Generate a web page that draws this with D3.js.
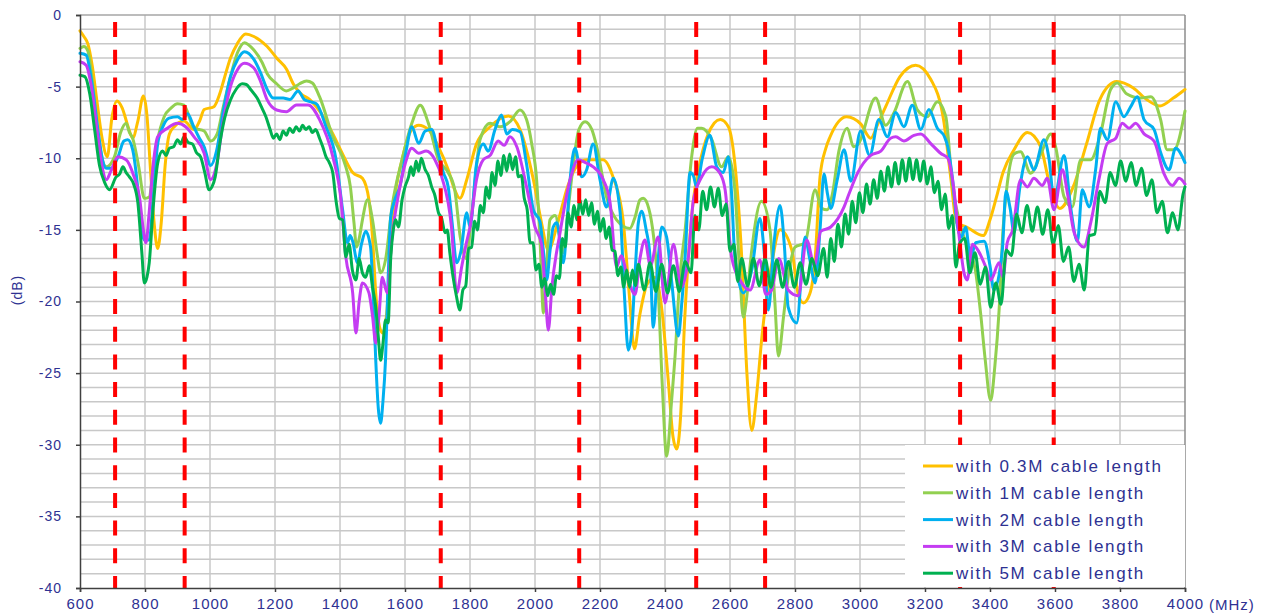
<!DOCTYPE html>
<html>
<head>
<meta charset="utf-8">
<script src="https://cdn.jsdelivr.net/npm/d3@7"></script>
<style>
  html, body { margin: 0; padding: 0; background: #fff; }
  svg { display: block; font-family: Arial, "Liberation Sans", sans-serif; }
</style>
</head>
<body>
<svg id="chart" width="1269" height="613"></svg>
<script>
// Frequency response of the antenna for several cable lengths (MHz, dB)
const cable03 = [[600,-1.1],[612,-1.5],[624,-2.0],[638,-3.6],[652,-6.0],[668,-8.6],[684,-9.9],[698,-7.2],[714,-6.0],[730,-6.5],[748,-7.8],[762,-8.6],[778,-7.4],[795,-5.65],[806,-7.0],[816,-10.5],[828,-14.5],[839,-16.3],[850,-14.5],[862,-10.5],[875,-8.3],[890,-7.8],[920,-7.4],[951,-8.0],[968,-7.4],[982,-6.6],[1012,-6.4],[1030,-5.5],[1043,-4.5],[1063,-3.0],[1084,-2.0],[1110,-1.33],[1135,-1.5],[1176,-2.2],[1205,-3.0],[1236,-3.8],[1256,-4.8],[1280,-5.5],[1307,-5.9],[1340,-6.8],[1378,-8.3],[1410,-9.8],[1439,-11.0],[1469,-11.4],[1489,-12.9],[1500,-15.5],[1510,-19.4],[1522,-21.8],[1532,-22.2],[1545,-20.5],[1556,-16.5],[1566,-13.4],[1591,-10.1],[1621,-8.0],[1642,-7.7],[1672,-8.0],[1703,-9.2],[1733,-10.8],[1753,-12.2],[1769,-12.8],[1790,-11.5],[1820,-9.0],[1862,-7.8],[1918,-7.05],[1954,-8.0],[1995,-11.5],[2020,-14.5],[2041,-16.4],[2070,-14.5],[2100,-12.0],[2130,-10.5],[2159,-10.1],[2209,-10.1],[2240,-11.3],[2271,-14.3],[2290,-19.5],[2306,-23.3],[2322,-21.0],[2345,-18.8],[2369,-18.3],[2390,-20.5],[2410,-25.5],[2425,-29.5],[2436,-30.3],[2448,-28.0],[2460,-21.5],[2472,-16.9],[2488,-12.8],[2503,-10.8],[2533,-8.3],[2570,-7.3],[2595,-7.8],[2616,-10.6],[2636,-16.9],[2652,-25.0],[2667,-29.0],[2682,-26.5],[2698,-22.5],[2729,-17.3],[2754,-15.0],[2790,-16.4],[2810,-19.5],[2826,-20.1],[2845,-19.5],[2862,-17.0],[2877,-11.3],[2895,-9.3],[2908,-8.5],[2959,-7.1],[3002,-7.6],[3033,-8.6],[3055,-7.6],[3079,-6.4],[3123,-4.3],[3171,-3.5],[3218,-4.5],[3257,-7.3],[3280,-11.5],[3297,-14.5],[3328,-14.8],[3379,-15.4],[3400,-14.3],[3420,-12.7],[3440,-11.0],[3474,-9.4],[3515,-8.2],[3556,-9.2],[3580,-11.5],[3597,-12.9],[3615,-13.5],[3656,-12.0],[3697,-9.0],[3738,-5.9],[3790,-4.65],[3841,-5.1],[3882,-5.9],[3923,-6.35],[3964,-5.8],[4000,-5.2]];

const cable1 = [[600,-2.33],[612,-2.2],[624,-2.5],[640,-5.0],[660,-9.0],[681,-10.6],[706,-9.9],[725,-8.2],[742,-7.56],[752,-8.2],[762,-8.6],[780,-10.5],[798,-12.8],[813,-12.7],[826,-10.5],[839,-8.7],[859,-7.1],[880,-6.5],[900,-6.2],[920,-6.3],[951,-7.9],[982,-8.1],[1002,-8.8],[1022,-8.3],[1040,-6.5],[1063,-4.3],[1085,-2.6],[1106,-1.93],[1135,-2.45],[1160,-3.3],[1176,-4.1],[1205,-4.8],[1235,-5.3],[1255,-5.1],[1276,-4.8],[1297,-4.6],[1315,-4.75],[1337,-5.7],[1378,-8.5],[1418,-10.6],[1432,-12.0],[1443,-14.5],[1451,-16.2],[1460,-15.5],[1469,-14.3],[1485,-12.9],[1500,-14.3],[1515,-16.8],[1525,-18.0],[1540,-17.1],[1560,-13.4],[1591,-10.1],[1621,-7.56],[1647,-6.3],[1672,-7.56],[1703,-10.1],[1733,-11.0],[1753,-12.2],[1770,-15.5],[1788,-17.0],[1805,-14.0],[1831,-8.7],[1862,-7.56],[1892,-7.8],[1923,-7.45],[1954,-6.63],[1974,-7.3],[1990,-9.0],[2005,-11.5],[2016,-16.0],[2026,-20.8],[2036,-17.5],[2046,-14.3],[2062,-14.0],[2087,-16.6],[2100,-14.0],[2118,-10.4],[2135,-8.0],[2154,-7.45],[2175,-8.0],[2190,-9.2],[2220,-12.7],[2251,-14.3],[2292,-14.9],[2308,-14.1],[2323,-12.9],[2333,-12.8],[2350,-13.5],[2365,-15.5],[2379,-19.2],[2392,-26.0],[2405,-30.8],[2420,-27.0],[2431,-23.8],[2445,-18.5],[2462,-15.0],[2482,-9.9],[2500,-7.9],[2513,-7.9],[2544,-8.7],[2574,-10.6],[2595,-9.9],[2615,-12.2],[2630,-18.0],[2641,-21.1],[2655,-19.0],[2667,-16.4],[2697,-13.0],[2723,-15.0],[2738,-20.0],[2749,-23.8],[2765,-21.0],[2779,-18.3],[2800,-16.2],[2831,-15.9],[2862,-12.2],[2882,-13.5],[2899,-13.6],[2915,-12.5],[2935,-9.5],[2961,-7.9],[2980,-9.2],[2995,-9.0],[3048,-5.8],[3079,-7.7],[3105,-6.8],[3146,-4.65],[3176,-6.6],[3207,-7.1],[3238,-6.05],[3264,-7.1],[3284,-11.8],[3310,-14.8],[3335,-16.4],[3355,-17.8],[3371,-20.8],[3385,-24.0],[3402,-26.9],[3415,-24.5],[3428,-20.6],[3440,-15.0],[3453,-11.8],[3474,-9.7],[3494,-9.55],[3525,-11.05],[3560,-9.5],[3587,-8.3],[3602,-9.2],[3628,-12.7],[3653,-13.4],[3679,-10.1],[3710,-10.1],[3740,-8.3],[3771,-5.2],[3792,-4.75],[3820,-5.5],[3864,-5.8],[3895,-5.7],[3925,-7.3],[3945,-9.4],[3966,-9.4],[4000,-6.7]];

const cable2 = [[600,-2.67],[619,-2.8],[635,-4.5],[655,-8.0],[670,-10.2],[681,-10.7],[696,-10.7],[717,-9.9],[735,-8.8],[747,-8.7],[762,-9.4],[775,-11.5],[787,-14.5],[798,-15.7],[813,-15.7],[826,-12.5],[839,-9.0],[855,-7.8],[874,-7.2],[900,-7.1],[915,-7.3],[931,-6.9],[950,-7.8],[965,-8.5],[982,-9.2],[1002,-10.5],[1020,-9.5],[1040,-6.8],[1063,-4.3],[1085,-3.1],[1106,-2.56],[1135,-3.1],[1155,-4.0],[1176,-5.2],[1195,-5.8],[1225,-5.8],[1246,-5.9],[1271,-5.3],[1290,-5.9],[1307,-6.05],[1327,-6.2],[1357,-7.8],[1388,-10.1],[1408,-13.6],[1423,-15.9],[1431,-15.4],[1439,-15.8],[1454,-17.3],[1466,-16.0],[1479,-15.1],[1494,-16.2],[1502,-19.5],[1510,-24.1],[1518,-27.5],[1525,-28.5],[1532,-27.0],[1540,-24.1],[1548,-18.5],[1556,-14.1],[1566,-13.1],[1586,-11.8],[1605,-9.3],[1621,-7.8],[1642,-8.96],[1662,-8.1],[1682,-8.0],[1703,-9.7],[1718,-11.0],[1733,-12.0],[1745,-14.5],[1759,-17.3],[1772,-16.5],[1790,-13.8],[1800,-14.8],[1820,-10.4],[1841,-9.0],[1856,-9.5],[1877,-8.0],[1897,-6.98],[1913,-8.3],[1930,-8.0],[1954,-8.15],[1974,-10.4],[1995,-13.6],[2015,-14.4],[2026,-16.5],[2036,-18.5],[2046,-16.5],[2056,-14.8],[2067,-14.5],[2087,-17.3],[2100,-14.0],[2108,-11.5],[2123,-9.3],[2144,-11.3],[2159,-10.8],[2179,-9.0],[2200,-11.5],[2220,-13.4],[2241,-11.4],[2262,-13.8],[2275,-19.5],[2287,-23.4],[2298,-22.0],[2308,-18.0],[2318,-14.5],[2328,-13.7],[2342,-15.0],[2354,-16.9],[2364,-21.8],[2376,-18.0],[2390,-14.8],[2405,-15.5],[2420,-18.5],[2441,-22.4],[2452,-20.0],[2462,-16.9],[2477,-11.0],[2487,-11.2],[2497,-12.0],[2515,-10.0],[2538,-8.4],[2559,-10.6],[2579,-11.0],[2595,-9.9],[2605,-12.5],[2615,-16.9],[2641,-19.4],[2667,-17.8],[2692,-14.2],[2705,-16.5],[2718,-20.6],[2735,-16.0],[2754,-13.3],[2767,-16.0],[2779,-20.4],[2805,-21.5],[2831,-15.5],[2845,-17.0],[2862,-18.7],[2877,-15.0],[2889,-11.1],[2900,-12.5],[2910,-13.5],[2930,-11.5],[2951,-9.4],[2972,-11.6],[3002,-8.1],[3030,-9.8],[3058,-7.3],[3084,-8.5],[3110,-6.8],[3135,-7.8],[3161,-6.3],[3187,-8.0],[3212,-6.6],[3238,-7.9],[3260,-8.5],[3270,-9.2],[3285,-11.5],[3300,-14.8],[3312,-15.5],[3325,-14.8],[3340,-17.0],[3356,-15.9],[3382,-15.8],[3400,-17.5],[3412,-19.2],[3438,-16.4],[3449,-12.3],[3462,-13.5],[3474,-15.2],[3492,-12.0],[3515,-9.9],[3535,-10.8],[3566,-8.7],[3582,-10.1],[3597,-12.9],[3628,-9.8],[3648,-13.4],[3669,-15.8],[3684,-12.2],[3705,-13.4],[3725,-10.8],[3740,-7.9],[3761,-8.7],[3787,-6.05],[3812,-7.1],[3833,-6.4],[3853,-5.7],[3874,-7.3],[3905,-8.0],[3925,-9.6],[3951,-10.8],[3971,-9.3],[4000,-10.3]];

const cable3 = [[600,-3.26],[619,-3.5],[635,-5.0],[655,-8.5],[670,-10.8],[681,-11.5],[695,-10.9],[717,-9.9],[742,-10.1],[765,-11.2],[783,-12.7],[795,-15.0],[803,-15.9],[812,-14.0],[825,-10.5],[839,-8.5],[869,-7.9],[900,-7.56],[925,-7.8],[951,-8.5],[982,-9.65],[1002,-11.5],[1020,-10.5],[1040,-7.5],[1063,-5.0],[1085,-3.8],[1106,-3.37],[1135,-3.7],[1155,-4.6],[1176,-5.93],[1205,-6.63],[1235,-6.75],[1266,-6.28],[1302,-6.28],[1337,-7.3],[1378,-9.9],[1403,-12.9],[1418,-16.9],[1439,-19.4],[1449,-22.2],[1459,-20.0],[1469,-18.7],[1489,-19.4],[1500,-21.0],[1510,-22.9],[1520,-21.0],[1530,-18.3],[1545,-19.4],[1560,-15.5],[1581,-12.4],[1601,-10.35],[1621,-9.3],[1642,-9.65],[1665,-9.5],[1692,-10.1],[1713,-11.3],[1743,-14.8],[1759,-19.4],[1775,-17.5],[1788,-16.0],[1800,-14.8],[1820,-11.5],[1841,-10.1],[1862,-9.8],[1887,-8.8],[1905,-9.1],[1923,-8.5],[1944,-9.2],[1974,-12.0],[2000,-14.8],[2020,-16.0],[2032,-19.5],[2041,-22.0],[2052,-19.0],[2077,-15.2],[2108,-11.5],[2133,-10.1],[2155,-10.3],[2179,-10.6],[2210,-11.5],[2231,-13.1],[2251,-17.6],[2265,-16.8],[2287,-18.5],[2308,-19.5],[2323,-17.0],[2338,-15.7],[2355,-17.5],[2379,-15.5],[2400,-20.1],[2426,-16.0],[2450,-19.0],[2472,-16.9],[2487,-13.0],[2513,-11.3],[2544,-10.6],[2569,-11.05],[2585,-12.2],[2605,-16.9],[2636,-18.7],[2662,-19.2],[2692,-17.1],[2710,-19.5],[2728,-19.2],[2750,-17.0],[2779,-19.2],[2810,-19.6],[2836,-15.7],[2860,-17.5],[2879,-15.1],[2910,-14.8],[2951,-13.4],[2966,-12.5],[2992,-11.05],[3033,-9.8],[3064,-9.5],[3094,-8.6],[3110,-8.5],[3135,-8.8],[3166,-8.4],[3187,-8.3],[3217,-8.96],[3248,-9.65],[3270,-10.0],[3289,-12.2],[3300,-14.5],[3310,-16.4],[3320,-18.0],[3330,-18.5],[3346,-16.0],[3365,-16.5],[3387,-17.6],[3402,-18.5],[3428,-17.3],[3440,-18.3],[3453,-15.9],[3470,-15.0],[3494,-11.5],[3515,-12.0],[3535,-11.4],[3561,-11.9],[3576,-11.4],[3597,-13.6],[3623,-10.8],[3638,-12.4],[3659,-15.2],[3689,-16.2],[3710,-14.5],[3735,-11.5],[3761,-8.96],[3787,-8.6],[3807,-7.56],[3828,-7.9],[3848,-7.56],[3874,-8.3],[3905,-8.8],[3935,-11.05],[3961,-11.9],[3982,-11.4],[4000,-11.8]];

const cable5 = [[600,-4.2],[615,-4.3],[630,-5.5],[645,-8.0],[660,-10.5],[676,-11.7],[691,-12.2],[711,-11.3],[722,-11.1],[732,-10.6],[742,-11.0],[752,-11.3],[765,-11.8],[778,-13.1],[790,-16.5],[798,-18.7],[806,-18.3],[813,-17.3],[825,-13.5],[839,-10.35],[854,-9.5],[865,-9.8],[875,-9.3],[888,-9.2],[900,-8.7],[910,-9.0],[920,-8.5],[933,-8.9],[946,-9.0],[958,-9.6],[971,-9.9],[984,-11.0],[997,-12.2],[1006,-12.0],[1016,-11.3],[1030,-9.0],[1045,-7.2],[1063,-5.93],[1080,-5.2],[1099,-4.8],[1112,-4.85],[1125,-5.2],[1145,-5.8],[1160,-6.5],[1172,-7.1],[1185,-8.0],[1195,-8.6],[1205,-8.3],[1215,-8.7],[1225,-8.1],[1235,-8.4],[1245,-7.9],[1255,-8.2],[1265,-7.8],[1275,-8.1],[1285,-7.7],[1295,-8.0],[1305,-7.8],[1315,-8.2],[1325,-8.0],[1337,-8.6],[1347,-9.2],[1357,-9.9],[1367,-10.3],[1378,-11.05],[1388,-13.0],[1398,-14.2],[1408,-14.3],[1418,-16.9],[1428,-16.0],[1438,-17.8],[1449,-18.5],[1459,-17.0],[1469,-18.0],[1479,-18.3],[1490,-17.5],[1500,-19.0],[1510,-20.4],[1518,-22.5],[1525,-24.1],[1532,-23.0],[1540,-21.3],[1548,-21.5],[1556,-17.0],[1564,-15.0],[1571,-14.3],[1580,-14.8],[1591,-12.9],[1600,-12.0],[1611,-11.3],[1618,-10.6],[1626,-11.2],[1634,-10.2],[1642,-10.9],[1650,-10.0],[1662,-10.8],[1672,-11.2],[1682,-12.0],[1692,-12.6],[1703,-13.8],[1713,-14.2],[1723,-15.2],[1730,-15.0],[1738,-16.6],[1748,-18.3],[1758,-19.6],[1769,-20.6],[1778,-19.2],[1787,-18.9],[1796,-16.3],[1805,-16.2],[1814,-14.4],[1823,-15.0],[1832,-13.3],[1841,-13.8],[1850,-12.0],[1859,-12.8],[1868,-11.0],[1877,-11.9],[1886,-10.2],[1895,-11.2],[1904,-9.8],[1913,-10.9],[1922,-9.7],[1931,-10.8],[1940,-9.9],[1949,-11.3],[1958,-11.2],[1967,-12.8],[1976,-13.6],[1985,-15.9],[1994,-15.9],[2003,-17.8],[2012,-17.4],[2021,-19.0],[2030,-18.4],[2039,-19.6],[2048,-18.8],[2057,-19.5],[2066,-18.2],[2075,-18.4],[2084,-15.6],[2093,-16.2],[2102,-13.8],[2111,-14.8],[2120,-13.3],[2129,-14.3],[2138,-12.9],[2147,-13.9],[2156,-12.9],[2165,-14.0],[2174,-13.1],[2183,-14.6],[2192,-13.7],[2201,-15.1],[2210,-14.2],[2219,-15.6],[2228,-14.8],[2237,-16.4],[2246,-16.5],[2255,-18.2],[2264,-17.6],[2273,-19.0],[2282,-17.8],[2291,-19.0],[2300,-17.8],[2309,-18.9],[2318,-17.4],[2336,-19.2],[2354,-17.3],[2372,-19.3],[2390,-17.4],[2408,-19.4],[2426,-17.5],[2444,-19.3],[2462,-17.2],[2480,-18.0],[2492,-14.0],[2504,-15.0],[2516,-12.3],[2528,-13.6],[2540,-12.0],[2552,-13.4],[2564,-12.1],[2576,-14.0],[2588,-13.2],[2600,-16.5],[2612,-16.0],[2624,-18.6],[2636,-17.0],[2654,-18.9],[2672,-17.0],[2690,-18.9],[2708,-17.0],[2726,-19.0],[2744,-17.1],[2762,-19.0],[2780,-17.2],[2798,-19.0],[2816,-17.3],[2834,-18.8],[2852,-17.0],[2870,-18.2],[2888,-16.3],[2899,-18.3],[2910,-15.6],[2921,-17.2],[2932,-14.6],[2943,-16.2],[2954,-13.9],[2965,-15.3],[2976,-13.0],[2987,-14.5],[2998,-12.4],[3009,-13.8],[3020,-11.8],[3031,-13.2],[3042,-11.5],[3053,-12.8],[3064,-10.9],[3075,-12.3],[3086,-10.6],[3097,-12.0],[3108,-10.3],[3119,-11.8],[3130,-10.1],[3141,-11.6],[3152,-10.0],[3163,-11.5],[3174,-10.1],[3185,-11.6],[3196,-10.2],[3207,-11.8],[3218,-10.6],[3229,-12.4],[3240,-11.6],[3251,-13.6],[3262,-12.5],[3273,-14.9],[3284,-14.0],[3295,-17.6],[3306,-16.0],[3322,-15.6],[3338,-18.0],[3354,-16.6],[3370,-18.8],[3386,-17.6],[3402,-20.4],[3418,-18.7],[3434,-20.2],[3450,-16.4],[3466,-16.8],[3482,-13.9],[3498,-15.2],[3514,-13.3],[3530,-15.1],[3546,-13.4],[3562,-15.3],[3578,-13.6],[3594,-16.0],[3610,-14.7],[3626,-17.2],[3642,-16.2],[3658,-18.6],[3674,-17.4],[3690,-19.2],[3706,-15.4],[3722,-15.3],[3738,-12.3],[3754,-13.1],[3770,-11.0],[3786,-11.9],[3802,-10.2],[3818,-11.6],[3834,-10.3],[3850,-11.9],[3866,-10.7],[3882,-12.6],[3898,-11.5],[3914,-13.8],[3930,-13.0],[3946,-15.2],[3962,-13.8],[3978,-15.0],[3994,-12.5],[4000,-12.0]];

const seriesNames = ["with 0.3M cable length", "with 1M cable length", "with 2M cable length", "with 3M cable length", "with 5M cable length"];
const seriesColors = ["#ffc000", "#92d050", "#00b0f0", "#c43cf2", "#00b050"];
const seriesData = [cable03, cable1, cable2, cable3, cable5];

// Band edges marked with red dashed lines (MHz)
const bandEdges = [708, 922, 1710, 2136, 2496, 2708, 3308, 3596];

const xTicks = d3.range(600, 4001, 200);
const yTicks = d3.range(-40, 1, 5);

const svg = d3.select("#chart");
const plotL = 80, plotR = 1185, plotT = 15, plotB = 588;
const x = d3.scaleLinear().domain([600, 4000]).range([plotL, plotR]);
const y = d3.scaleLinear().domain([-40, 0]).range([plotB, plotT]);
const textColor = "#2e3192";

// Grid
const grid = svg.append("g");
grid.selectAll("line.h").data(d3.range(-39, 0, 1)).join("line")
  .attr("x1", plotL).attr("x2", plotR)
  .attr("y1", d => y(d)).attr("y2", d => y(d))
  .attr("stroke", "#c8c8c8").attr("stroke-width", 1.5);
grid.selectAll("line.v").data(xTicks.filter(d => d > 600 && d < 4000)).join("line")
  .attr("x1", d => x(d)).attr("x2", d => x(d))
  .attr("y1", plotT).attr("y2", plotB)
  .attr("stroke", "#c8c8c8").attr("stroke-width", 1.5);

// Plot frame: top and right in grey
svg.append("line").attr("x1", plotL).attr("x2", plotR).attr("y1", plotT).attr("y2", plotT)
  .attr("stroke", "#a6a6a6").attr("stroke-width", 1.5);
svg.append("line").attr("x1", plotR).attr("x2", plotR).attr("y1", plotT).attr("y2", plotB)
  .attr("stroke", "#8c8c8c").attr("stroke-width", 1.5);

// Curves
const line = d3.line()
  .x(d => x(d[0])).y(d => y(d[1]))
  .curve(d3.curveMonotoneX);
svg.append("g").selectAll("path").data(seriesData).join("path")
  .attr("d", line)
  .attr("fill", "none")
  .attr("stroke", (d, i) => seriesColors[i])
  .attr("stroke-width", 3)
  .attr("stroke-linejoin", "round")
  .attr("stroke-linecap", "round");

// Band edge markers
svg.append("g").selectAll("line").data(bandEdges).join("line")
  .attr("x1", d => x(d)).attr("x2", d => x(d))
  .attr("y1", 22).attr("y2", plotB)
  .attr("stroke", "#ff0000").attr("stroke-width", 4)
  .attr("stroke-dasharray", "15 12.7");

// Axes
const yAxis = d3.axisLeft(y).tickValues(yTicks).tickSize(4).tickFormat(d3.format("d"));
const gy = svg.append("g").attr("transform", `translate(${plotL},0)`).call(yAxis);
gy.select(".domain").attr("stroke", "#404040").attr("stroke-width", 1.5);
gy.selectAll(".tick line").attr("stroke", "#404040").attr("stroke-width", 1.5);
gy.selectAll(".tick text")
  .attr("x", -18)
  .attr("fill", textColor)
  .style("font-size", "14px")
  .style("letter-spacing", "1px")
  .style("font-family", "Arial, 'Liberation Sans', sans-serif")
  .text(d => String(d));

const xAxis = d3.axisBottom(x).tickValues(xTicks).tickSize(4).tickFormat(d3.format("d"));
const gx = svg.append("g").attr("transform", `translate(0,${plotB})`).call(xAxis);
gx.select(".domain").attr("stroke", "#404040").attr("stroke-width", 1.5);
gx.selectAll(".tick line").attr("stroke", "#404040").attr("stroke-width", 1.5);
gx.selectAll(".tick text")
  .attr("y", 10)
  .attr("fill", textColor)
  .style("font-size", "15px")
  .style("letter-spacing", "1px")
  .style("font-family", "Arial, 'Liberation Sans', sans-serif");

// Axis unit labels
svg.append("text")
  .attr("transform", "translate(22,290) rotate(-90)")
  .attr("text-anchor", "middle")
  .attr("fill", textColor)
  .style("font-size", "14px")
  .style("letter-spacing", "1px")
  .text("(dB)");
svg.append("text")
  .attr("x", 1209).attr("y", 610)
  .attr("fill", textColor)
  .style("font-size", "15px")
  .style("letter-spacing", "1px")
  .text("(MHz)");

// Legend
const legend = svg.append("g");
legend.append("rect")
  .attr("x", 905).attr("y", 445).attr("width", plotR - 905).attr("height", plotB - 445 - 1)
  .attr("fill", "#fff");
const rows = legend.selectAll("g.row").data(seriesNames).join("g")
  .attr("transform", (d, i) => `translate(0,${466 + i * 26.8})`);
rows.append("line")
  .attr("x1", 923).attr("x2", 953).attr("y1", 0).attr("y2", 0)
  .attr("stroke", (d, i) => seriesColors[i]).attr("stroke-width", 3);
rows.append("text")
  .attr("x", 956).attr("y", 6)
  .attr("fill", textColor)
  .style("font-size", "17px")
  .style("letter-spacing", "1.7px")
  .text(d => d);
</script>
</body>
</html>
